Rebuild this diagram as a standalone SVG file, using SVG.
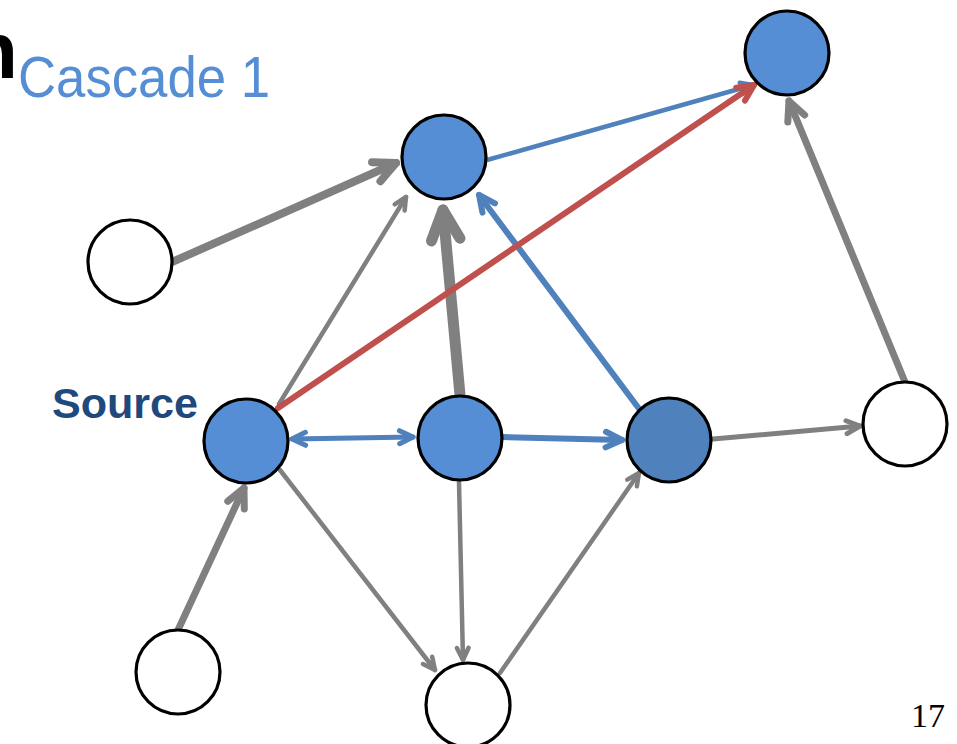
<svg xmlns="http://www.w3.org/2000/svg" width="957" height="744" viewBox="0 0 957 744">
  <style>
    .node { stroke: #000; stroke-width: 3.2; }
    .active { fill: #558ED5; }
    .frontier { fill: #4F81BD; }
    .idle { fill: #FFFFFF; }
    .edge { fill: none; stroke-linecap: round; }
    .gray { stroke: #808080; }
    .blue { stroke: #4F81BD; }
    .red { stroke: #C0504D; }
    .title { font-family: "Liberation Sans", Arial, sans-serif; }
  </style>
  <defs>
    <marker id="ah-gray" viewBox="-4 -3 5 6" refX="0" refY="0" markerWidth="5" markerHeight="6" orient="auto" markerUnits="strokeWidth" overflow="visible">
      <path d="M-2.7,-1.3 L0,0 L-2.7,1.3" fill="none" stroke="#808080" stroke-width="1" stroke-linecap="round" stroke-linejoin="round"/>
    </marker>
    <marker id="ah-blue" viewBox="-4 -3 5 6" refX="0" refY="0" markerWidth="5" markerHeight="6" orient="auto" markerUnits="strokeWidth" overflow="visible">
      <path d="M-2.7,-1.3 L0,0 L-2.7,1.3" fill="none" stroke="#4F81BD" stroke-width="1" stroke-linecap="round" stroke-linejoin="round"/>
    </marker>
    <marker id="ah-blue-start" viewBox="-1 -3 5 6" refX="0" refY="0" markerWidth="5" markerHeight="6" orient="auto" markerUnits="strokeWidth" overflow="visible">
      <path d="M2.7,-1.3 L0,0 L2.7,1.3" fill="none" stroke="#4F81BD" stroke-width="1" stroke-linecap="round" stroke-linejoin="round"/>
    </marker>
    <marker id="ah-red" viewBox="-4 -3 5 6" refX="0" refY="0" markerWidth="5" markerHeight="6" orient="auto" markerUnits="strokeWidth" overflow="visible">
      <path d="M-2.7,-1.3 L0,0 L-2.7,1.3" fill="none" stroke="#C0504D" stroke-width="1" stroke-linecap="round" stroke-linejoin="round"/>
    </marker>
  </defs>

  <rect width="957" height="744" fill="#FFFFFF"/>

  <!-- heading: tail of the slide title running in from the left, then the subtitle -->
  <text class="title" x="-31" y="78" font-size="80" font-weight="bold" fill="#000">n</text>
  <text class="title" x="18" y="97" font-size="58" fill="#558ED5" textLength="252" lengthAdjust="spacingAndGlyphs">Cascade 1</text>

  <g id="connectors">
    <line class="edge gray" x1="172" y1="262" x2="396" y2="163" stroke-width="8" marker-end="url(#ah-gray)"/>
    <line class="edge gray" x1="279" y1="404" x2="406" y2="197" stroke-width="4.5" marker-end="url(#ah-gray)"/>
    <line class="edge gray" x1="460" y1="395" x2="443" y2="210" stroke-width="11" marker-end="url(#ah-gray)"/>
    <line class="edge gray" x1="713" y1="439" x2="860" y2="426" stroke-width="5" marker-end="url(#ah-gray)"/>
    <line class="edge gray" x1="905" y1="382" x2="789" y2="101" stroke-width="7" marker-end="url(#ah-gray)"/>
    <line class="edge gray" x1="178" y1="630" x2="244" y2="488" stroke-width="7" marker-end="url(#ah-gray)"/>
    <line class="edge gray" x1="280" y1="470" x2="435" y2="670" stroke-width="4.5" marker-end="url(#ah-gray)"/>
    <line class="edge gray" x1="459" y1="482" x2="463" y2="660" stroke-width="4.5" marker-end="url(#ah-gray)"/>
    <line class="edge gray" x1="500" y1="673" x2="639" y2="473" stroke-width="4.5" marker-end="url(#ah-gray)"/>
    <line class="edge blue" x1="487" y1="160" x2="753" y2="85" stroke-width="4.5" marker-end="url(#ah-blue)"/>
    <line class="edge blue" x1="640" y1="410" x2="479" y2="195" stroke-width="6" marker-end="url(#ah-blue)"/>
    <line class="edge blue" x1="292" y1="439" x2="413" y2="437" stroke-width="5" marker-start="url(#ah-blue-start)" marker-end="url(#ah-blue)"/>
    <line class="edge blue" x1="503" y1="437" x2="622" y2="440" stroke-width="6" marker-end="url(#ah-blue)"/>
    <line class="edge red" x1="278" y1="408" x2="754" y2="85" stroke-width="6" marker-end="url(#ah-red)"/>
  </g>

  <g id="node-top-right"><circle class="node active" cx="787" cy="53" r="42"/></g>
  <g id="node-top"><circle class="node active" cx="444" cy="157" r="42"/></g>
  <g id="node-left"><circle class="node idle" cx="130" cy="262" r="42"/></g>
  <g id="node-source"><circle class="node active" cx="246" cy="441" r="42"/></g>
  <g id="node-middle"><circle class="node active" cx="460" cy="438" r="42"/></g>
  <g id="node-right-center"><circle class="node frontier" cx="669" cy="440" r="42"/></g>
  <g id="node-right"><circle class="node idle" cx="905" cy="424" r="42"/></g>
  <g id="node-bottom-left"><circle class="node idle" cx="178" cy="672" r="42"/></g>
  <g id="node-bottom"><circle class="node idle" cx="468" cy="705" r="42"/></g>

  <text class="title" x="52" y="418" font-size="43" font-weight="bold" fill="#1F497D" textLength="146" lengthAdjust="spacingAndGlyphs">Source</text>
  <text x="911" y="727" font-family="'Liberation Serif', 'Times New Roman', serif" font-size="34" fill="#000">17</text>
</svg>
